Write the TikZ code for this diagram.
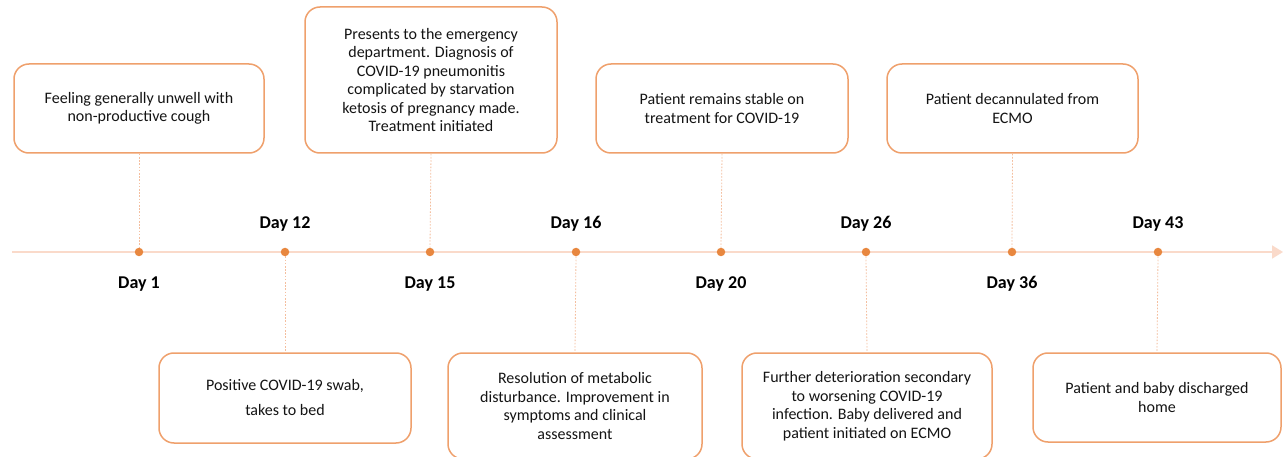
\documentclass[tikz,border=0pt]{standalone}
\usepackage{fontspec}
\setmainfont{Carlito}
\usetikzlibrary{arrows.meta}
\definecolor{boxline}{HTML}{EFA06C}
\definecolor{dotcol}{HTML}{E8873F}
\definecolor{axiscol}{HTML}{FADACA}
\definecolor{conncol}{HTML}{F4BE9E}
\definecolor{txt}{HTML}{141414}
\tikzset{
  evbox/.style={draw=boxline, line width=1.5pt, rounded corners=15pt, fill=white,
    minimum width=250pt, align=center, text=txt, inner sep=4pt,
    font=\fontsize{16}{18.5}\selectfont},
  evdot/.style={circle, fill=dotcol, draw=none, minimum size=8.5pt, inner sep=0pt},
  conn/.style={draw=conncol, line width=0.8pt, dash pattern=on 1.6pt off 1.6pt},
  daylab/.style={text=black, font=\bfseries\fontsize{18}{20}\selectfont, inner sep=0pt, anchor=base},
  axis/.style={draw=axiscol, line width=1.8pt, -{Triangle[width=13pt,length=11pt]}}
}
\begin{document}
\begin{tikzpicture}[x=1pt,y=1pt]
\clip (0,0) rectangle (1283,-457);
\fill[white] (0,0) rectangle (1283,-457);
% timeline
\coordinate (axs) at (12,-252);
\coordinate (axe) at (1283,-252);
\draw[axis] (axs) -- (axe);
% dots
\node[evdot] (d1) at (139,-252) {};
\node[evdot] (d12) at (285,-252) {};
\node[evdot] (d15) at (430,-252) {};
\node[evdot] (d16) at (576,-252) {};
\node[evdot] (d20) at (721,-252) {};
\node[evdot] (d26) at (866,-252) {};
\node[evdot] (d36) at (1012,-252) {};
\node[evdot] (d43) at (1158,-252) {};
% boxes top
\node[evbox, minimum height=89pt] (b1) at (139,-108.5) {Feeling generally unwell with\\non-productive cough};
\node[evbox, minimum width=252pt, minimum height=146pt] (b15) at (431,-80) {Presents to the emergency\\department. Diagnosis of\\COVID-19 pneumonitis\\complicated by starvation\\ketosis of pregnancy made.\\Treatment initiated};
\node[evbox, minimum width=252pt, minimum height=89pt] (b20) at (722,-108.5) {Patient remains stable on\\treatment for COVID-19};
\node[evbox, minimum width=251pt, minimum height=89pt] (b36) at (1012.5,-108.5) {Patient decannulated from\\ECMO};
% boxes bottom
\node[evbox, minimum width=252pt, minimum height=90pt, font=\fontsize{16}{25}\selectfont] (b12) at (285,-398) {Positive COVID-19 swab,\\takes to bed};
\node[evbox, minimum width=254pt, minimum height=106pt] (b16) at (575,-406) {Resolution of metabolic\\disturbance. Improvement in\\symptoms and clinical\\assessment};
\node[evbox, minimum width=250pt, minimum height=106pt] (b26) at (867,-406) {Further deterioration secondary\\to worsening COVID-19\\infection. Baby delivered and\\patient initiated on ECMO};
\node[evbox, minimum width=248pt, minimum height=89pt] (b43) at (1157,-397.5) {Patient and baby discharged\\home};
% connectors
\draw[conn] (b1.south) -- (d1.north);
\draw[conn] (b15.south) -- (d15.north);
\draw[conn] (b20.south) -- (d20.north);
\draw[conn] (b36.south) -- (d36.north);
\draw[conn] (d12.south) -- (b12.north);
\draw[conn] (d16.south) -- (b16.north);
\draw[conn] (d26.south) -- (b26.north);
\draw[conn] (d43.south) -- (b43.north);
% labels
\node[daylab] (l1) at (139,-288) {Day 1};
\node[daylab] (l12) at (285,-229) {Day 12};
\node[daylab] (l15) at (430,-288) {Day 15};
\node[daylab] (l16) at (576,-229) {Day 16};
\node[daylab] (l20) at (721,-288) {Day 20};
\node[daylab] (l26) at (866,-229) {Day 26};
\node[daylab] (l36) at (1012,-288) {Day 36};
\node[daylab] (l43) at (1158,-229) {Day 43};
\end{tikzpicture}
\end{document}
